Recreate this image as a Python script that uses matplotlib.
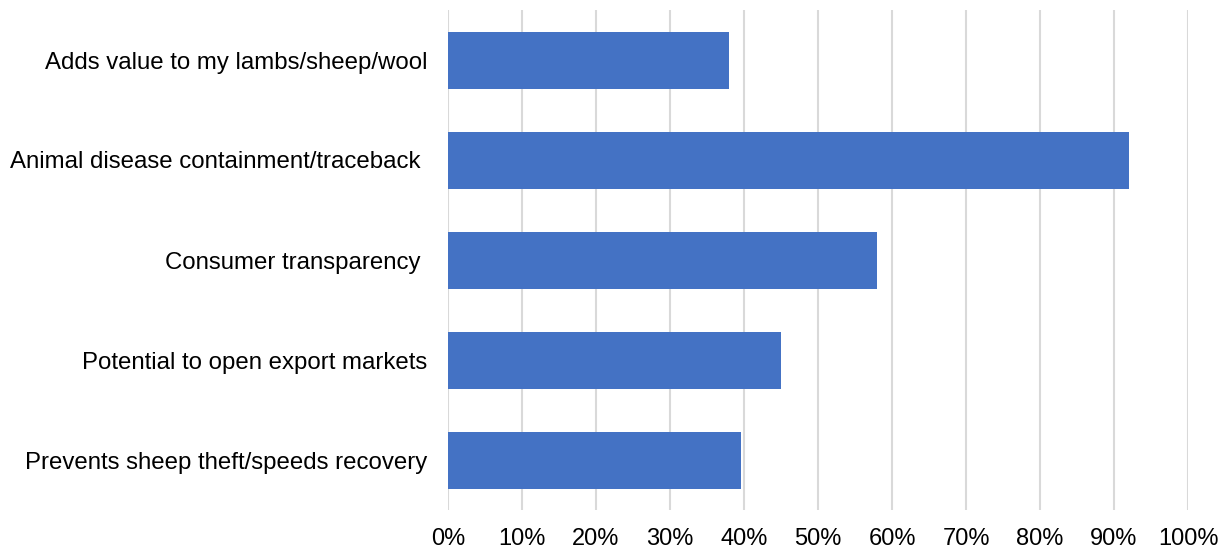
import matplotlib
matplotlib.use("Agg")
import matplotlib.pyplot as plt
from matplotlib.ticker import FuncFormatter, MultipleLocator

categories = [
    "Adds value to my lambs/sheep/wool",
    "Animal disease containment/traceback ",
    "Consumer transparency ",
    "Potential to open export markets",
    "Prevents sheep theft/speeds recovery",
]
values = [38, 92, 58, 45, 39.6]

plt.rcParams["font.family"] = ["Liberation Sans", "DejaVu Sans"]

fig = plt.figure(figsize=(12.28, 5.51), dpi=100)
ax = fig.add_axes([448 / 1228, 1 - 510 / 551, 740 / 1228, 500 / 551])

ypos = list(range(len(categories)))
ax.barh(ypos, values, height=0.57, color="#4472C4", zorder=3)

ax.set_xlim(0, 100)
ax.set_ylim(len(categories) - 0.5, -0.5)
ax.set_yticks(ypos)
ax.set_yticklabels(categories, fontsize=17.3)
ax.xaxis.set_major_locator(MultipleLocator(10))
ax.xaxis.set_major_formatter(FuncFormatter(lambda v, _: f"{v:.0f}%"))

ax.grid(axis="x", color="#D9D9D9", linewidth=1.5, zorder=0)
for s in ax.spines.values():
    s.set_visible(False)
ax.tick_params(axis="x", length=0, labelsize=17, colors="#000000", pad=13)
ax.tick_params(axis="y", length=0, colors="#000000", pad=15)
for lbl in ax.get_yticklabels():
    lbl.set_fontsize(17.3)
    lbl.set_va("center_baseline")

fig.savefig("out.png", dpi=100)
